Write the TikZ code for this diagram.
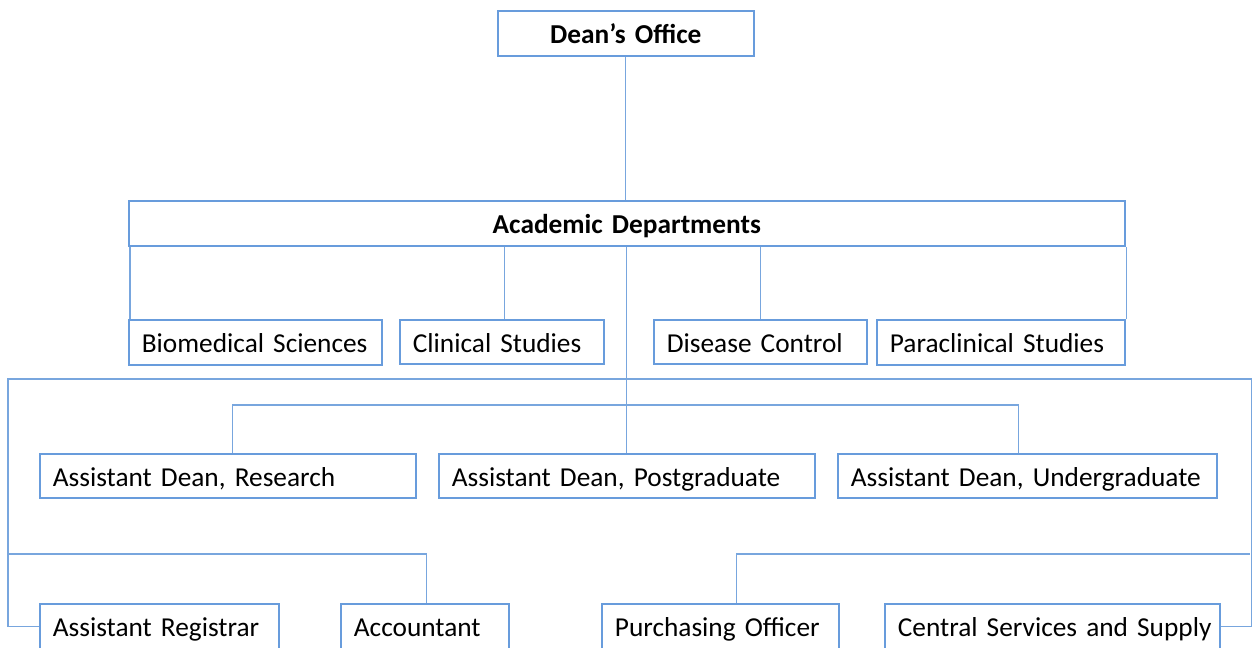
\documentclass[tikz,border=0pt]{standalone}
\usepackage{fontspec}
\setmainfont{Carlito}
\definecolor{boxblue}{RGB}{104,156,220}
\definecolor{lineblue}{RGB}{120,166,222}
\tikzset{
  orgbox/.style={draw=boxblue, line width=1.3pt, fill=white, rectangle, anchor=north west,
    inner xsep=9.75pt, inner ysep=0pt, align=left, text height=17.5pt, text depth=2pt,
    font=\fontsize{20.5}{22}\selectfont},
  headbox/.style={orgbox, align=center, font=\fontsize{20.5}{22}\selectfont\bfseries},
  conn/.style={draw=lineblue, line width=0.8pt}
}
\begin{document}
\begin{tikzpicture}[x=0.75pt, y=-0.75pt]
\useasboundingbox (0,0) rectangle (1254,647);
\clip (0,0) rectangle (1254,647);
% boxes
\node[headbox, minimum width=192pt, minimum height=33.75pt, text width=172.5pt] (dean) at (497,10) {Dean’s Office};
\node[headbox, minimum width=747pt, minimum height=33.75pt, text width=727.5pt] (acad) at (128,200) {Academic Departments};
\node[orgbox, minimum height=33.75pt, text width=170.25pt] (bio) at (128,319) {\mbox{Biomedical Sciences}};
\node[orgbox, minimum height=33pt, text width=133.5pt] (clin) at (399,319) {\mbox{Clinical Studies}};
\node[orgbox, minimum height=33pt, text width=140.25pt] (dis) at (653,319) {\mbox{Disease Control}};
\node[orgbox, minimum height=33.75pt, text width=166.5pt] (para) at (876,319) {\mbox{Paraclinical Studies}};
\node[orgbox, minimum height=33pt, text width=262.5pt] (adr) at (39,453) {\mbox{Assistant Dean,\ Research}};
\node[orgbox, minimum height=33pt, text width=262.5pt] (adp) at (438,453) {\mbox{Assistant Dean,\ Postgraduate}};
\node[orgbox, minimum height=33pt, text width=264.75pt] (adu) at (837,453) {\mbox{Assistant Dean,\ Undergraduate}};
\node[orgbox, minimum height=33.75pt, text width=159.75pt] (reg) at (39,603) {\mbox{Assistant Registrar}};
\node[orgbox, minimum height=33.75pt, text width=106.5pt] (acc) at (340,603) {\mbox{Accountant}};
\node[orgbox, minimum height=33.75pt, text width=158.25pt] (pur) at (601,603) {\mbox{Purchasing Officer}};
\node[orgbox, minimum height=33.75pt, text width=231.75pt] (css) at (884,603) {\mbox{Central Services and Supply}};
% junction coordinates
\coordinate (j1) at (625,379);
\coordinate (j2) at (625,405);
\coordinate (jl) at (8,554);
\coordinate (jr) at (1250,554);
% connectors
\draw[conn] (dean.south) -- (dean.south |- acad.north);
\draw[conn] ([xshift=1.5pt]bio.north west) -- ([xshift=1.5pt]bio.north west |- acad.south);
\draw[conn] ([xshift=2.25pt]clin.north) -- ([xshift=2.25pt]clin.north |- acad.south);
\draw[conn] (dis.north) -- (dis.north |- acad.south);
\draw[conn] ([xshift=0.75pt]para.north east) -- ([xshift=0.75pt]para.north east |- acad.south);
\draw[conn] (acad.south) -- (acad.south |- adp.north);
\draw[conn] (reg.west) -- ++(-31,0) |- (j1);
\draw[conn] (css.east) -- ++(31,0) |- (j1);
\draw[conn] ([xshift=3.75pt]adr.north) |- (j2);
\draw[conn] ([xshift=-6.4pt]adu.north) |- (j2);
\draw[conn] ([xshift=1.5pt]acc.north) |- (jl);
\draw[conn] ([xshift=12.4pt]pur.north) |- (jr);
\end{tikzpicture}
\end{document}
